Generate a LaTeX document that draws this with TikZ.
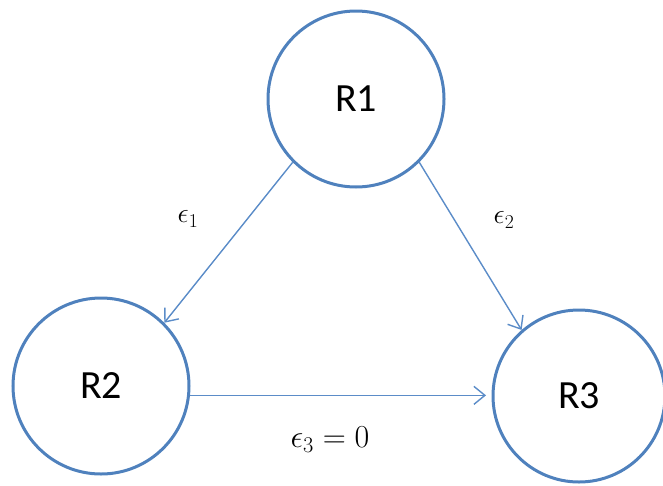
\RequirePackage{fix-cm}
\documentclass[tikz,border=0pt]{standalone}
\usepackage{fontspec}
\setsansfont{Carlito}
\usetikzlibrary{arrows.meta}
\definecolor{ringblue}{HTML}{4F81BD}
\definecolor{lineblue}{HTML}{5B8CC8}
\begin{document}
\begin{tikzpicture}[x=1pt,y=-1pt,
  ring/.style={circle,draw=ringblue,line width=3pt,minimum size=176pt,inner sep=0pt,
    font=\sffamily\fontsize{40}{40}\selectfont},
  link/.style={draw=lineblue,line width=1.4pt,-{Straight Barb[length=11pt,width=18pt,line width=1.4pt]}},
  lab/.style={inner sep=0pt,font=\fontsize{28}{28}\selectfont},
  biglab/.style={inner sep=0pt,font=\fontsize{32}{32}\selectfont}]
\useasboundingbox (0,0) rectangle (663,485);
\node[ring] (R1) at (356,99) {R1};
\node[ring] (R2) at (101,386) {R2};
\node[ring,minimum size=172pt] (R3) at (579,396) {R3};
\coordinate (R3in) at (486,396);
\draw[link] (R1.225) -- (R2.45);
\draw[link] (R1.-45) -- (R3.131);
\draw[link] (R2.-6) -- (R2.-6 -| R3in);
\node[lab] (e1) at (188,219) {$\epsilon_1$};
\node[lab] (e2) at (504,220) {$\epsilon_2$};
\node[biglab] (e3) at (330,440) {$\epsilon_3 = 0$};
\end{tikzpicture}
\end{document}
